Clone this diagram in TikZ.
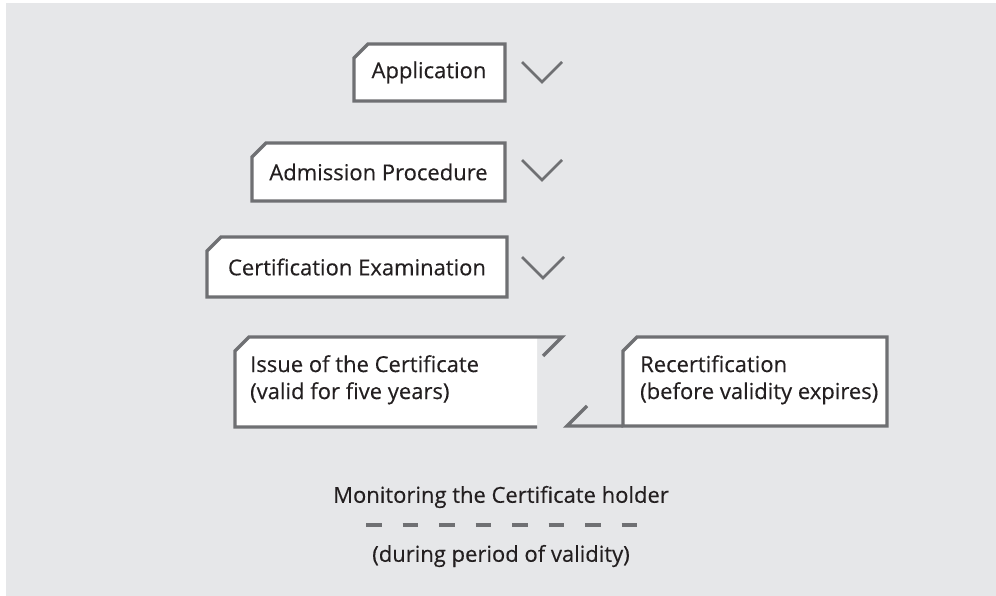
\documentclass[tikz,border=0pt]{standalone}
\usepackage{fontspec}
\setmainfont{Open Sans}[FakeBold=0.3]
\definecolor{bg}{HTML}{E6E7E9}
\definecolor{frame}{HTML}{6F7073}
\definecolor{ink}{HTML}{231F20}
\begin{document}
\begin{tikzpicture}[x=1pt,y=-1pt,
  boxline/.style={draw=frame,line width=3.4pt,fill=white,line join=miter},
  openline/.style={draw=frame,line width=3.4pt,line join=miter},
  chev/.style={draw=frame,line width=2.8pt,line join=miter},
  lbl/.style={text=ink,font=\fontsize{22}{27}\selectfont,inner sep=0pt},
  lbl2/.style={lbl,align=left,anchor=north west}]
\useasboundingbox (0,0) rectangle (996,596);
\fill[bg] (6,3) rectangle (996,596);
% Application
\path[boxline] (354,58) -- (368,44) -- (505,44) -- (505,101) -- (354,101) -- cycle;
\node[lbl] (app) at (429,72.5) {Application};
\draw[chev] (522,62) -- (542,82) -- (562,62);
% Admission
\path[boxline] (252,157) -- (266,143) -- (505,143) -- (505,201) -- (252,201) -- cycle;
\node[lbl] (adm) at (378.5,172) {Admission Procedure};
\draw[chev] (522,160) -- (542,180) -- (562,160);
% Certification Examination
\path[boxline] (207,251) -- (221,237) -- (507,237) -- (507,297) -- (207,297) -- cycle;
\node[lbl] (exam) at (357,267) {Certification Examination};
\draw[chev] (522,257) -- (543,278) -- (564,257);
% Issue of the Certificate
\fill[white] (235,351) -- (249,337) -- (537,337) -- (537,427) -- (235,427) -- cycle;
\draw[openline] (537,427) -- (235,427) -- (235,351) -- (249,337) -- (562,337) -- (543,356);
\node[lbl2] (issue) at (250,355) {Issue of the Certificate\\(valid for five years)};
% Recertification
\path[boxline] (623,351) -- (637,337) -- (887,337) -- (887,426) -- (623,426) -- cycle;
\draw[openline] (623,426) -- (567,426) -- (587,406);
\node[lbl2] (recert) at (640,355) {Recertification\\(before validity expires)};
% Monitoring
\node[lbl] (mon) at (501,497) {Monitoring the Certificate holder};
\coordinate (dA) at (366,525);
\coordinate (dB) at (637,525);
\draw[frame,line width=3.6pt,dash pattern=on 15.5pt off 21pt] (dA) -- (dB);
\node[lbl] (dur) at (501,556) {(during period of validity)};
\end{tikzpicture}
\end{document}
